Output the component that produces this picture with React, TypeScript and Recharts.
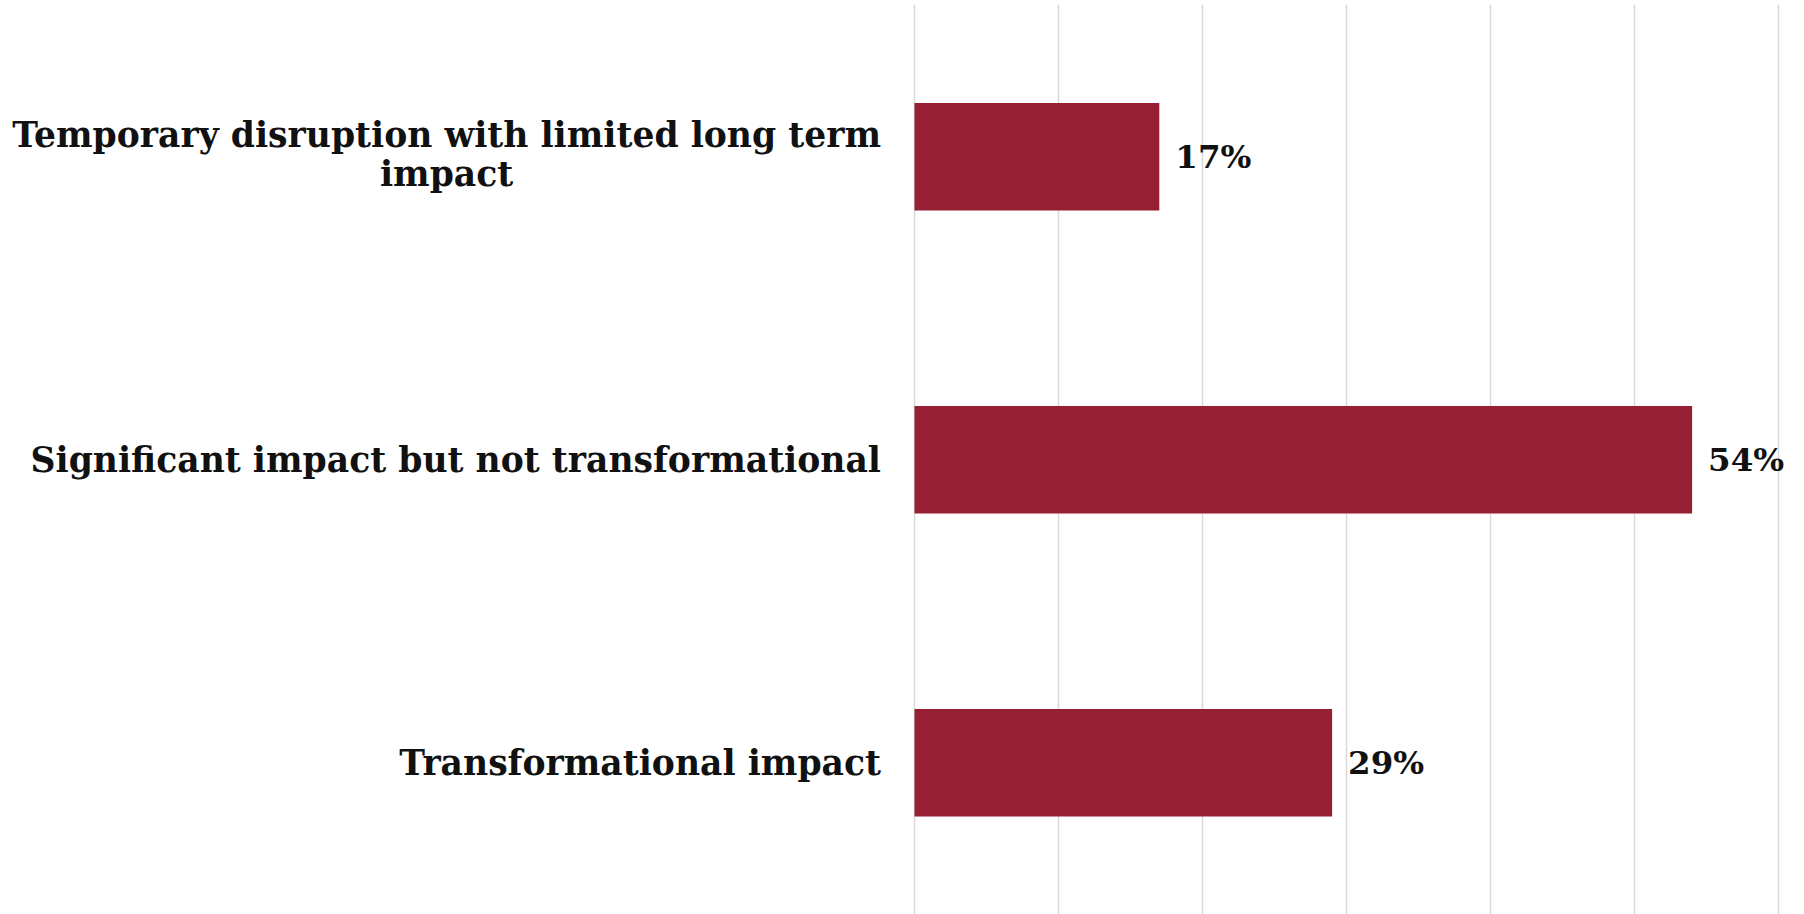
import { BarChart, Bar, XAxis, YAxis, CartesianGrid, LabelList } from "recharts";

const categories = [
  "Temporary disruption with limited long term impact",
  "Significant impact but not transformational",
  "Transformational impact",
];
const shares = [0.17, 0.54, 0.29];
const xTicks = [0, 0.1, 0.2, 0.3, 0.4, 0.5, 0.6];

const data = categories.map((name, i) => ({ name, value: shares[i] }));

const FONT = "DejaVu Serif, Georgia, serif";
const LABEL_SIZE = 34.6;
const MAX_LABEL_WIDTH = 890;
const LINE_HEIGHT = 39;

let ctx: CanvasRenderingContext2D | null = null;
const measure = (s: string) => {
  if (!ctx) ctx = document.createElement("canvas").getContext("2d");
  if (!ctx) return s.length * LABEL_SIZE * 0.6;
  ctx.font = `bold ${LABEL_SIZE}px ${FONT}`;
  return ctx.measureText(s).width;
};

const wrap = (text: string) => {
  const words = text.split(" ");
  const lines: string[] = [];
  let cur = "";
  words.forEach((w) => {
    const next = cur ? cur + " " + w : w;
    if (cur && measure(next) > MAX_LABEL_WIDTH) {
      lines.push(cur);
      cur = w;
    } else cur = next;
  });
  if (cur) lines.push(cur);
  return lines;
};

const CategoryTick = ({ x, y, payload }: any) => {
  const lines = wrap(payload.value);
  const widest = Math.max(...lines.map(measure));
  const cx = x - widest / 2;
  const top = y - ((lines.length - 1) * LINE_HEIGHT) / 2 - (lines.length > 1 ? 2 : 0);
  return (
    <text
      fontFamily={FONT}
      fontWeight="bold"
      fontSize={LABEL_SIZE}
      fill="#111"
      textAnchor="middle"
      dominantBaseline="central"
    >
      {lines.map((l, i) => (
        <tspan key={i} x={cx} y={top + i * LINE_HEIGHT}>
          {l}
        </tspan>
      ))}
    </text>
  );
};

export default function App() {
  return (
    <div style={{ position: "fixed", left: 0, top: 0, background: "#fff" }}>
      <BarChart
        layout="vertical"
        width={1804}
        height={914}
        data={data}
        margin={{ top: 5, right: 25.5, left: 0, bottom: 0 }}
      >
        <CartesianGrid
          horizontal={false}
          stroke="#d9d9d9"
          strokeWidth={1.5}
        />
        <XAxis type="number" domain={[0, 0.6]} ticks={xTicks} hide />
        <YAxis
          type="category"
          dataKey="name"
          width={914.5}
          axisLine={false}
          tickLine={false}
          tickSize={0}
          tickMargin={33.5}
          tick={<CategoryTick />}
          interval={0}
        />
        <Bar
          dataKey="value"
          fill="#971f33"
          barSize={107.5}
          isAnimationActive={false}
        >
          <LabelList
            dataKey="value"
            position="right"
            offset={16}
            formatter={(v: any) => `${Math.round(v * 100)}%`}
            style={{
              fontFamily: FONT,
              fontWeight: "bold",
              fontSize: 32.5,
              fill: "#111",
            }}
          />
        </Bar>
      </BarChart>
    </div>
  );
}
